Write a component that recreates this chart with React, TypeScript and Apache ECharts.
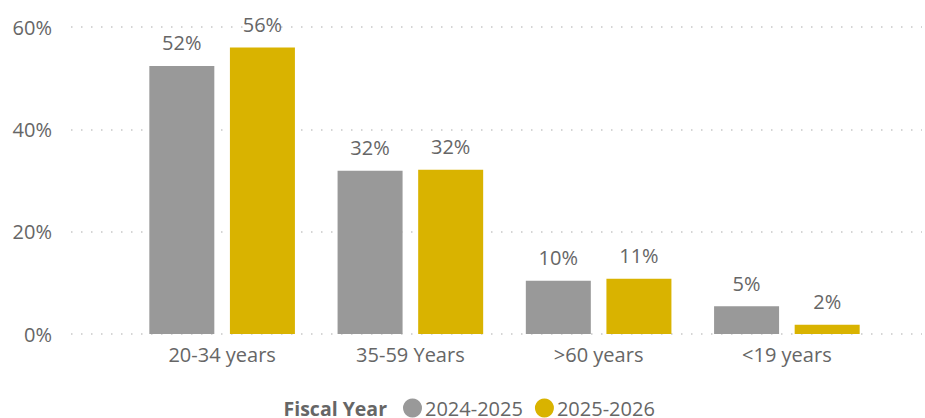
import React, { useEffect, useRef } from "react";
import * as echarts from "echarts";

const categories = ["20-34 years", "35-59 Years", ">60 years", "<19 years"];
const seriesNames = ["2024-2025", "2025-2026"];
const values2024 = [52.4, 31.9, 10.4, 5.4];
const values2025 = [56.0, 32.1, 10.8, 1.8];
const yTicks = [0, 20, 40, 60];

const FONT = "'Segoe UI', 'Open Sans', sans-serif";
const TEXT = "#666666";

export default function App() {
  const ref = useRef<HTMLDivElement>(null);
  useEffect(() => {
    if (!ref.current) return;
    const chart = echarts.init(ref.current, undefined, { renderer: "svg" });
    const label = {
      show: true,
      position: "top" as const,
      distance: 13,
      color: TEXT,
      fontSize: 20,
      fontFamily: FONT,
      formatter: (p: any) => Math.round(p.value) + "%",
    };
    chart.setOption({
      animation: false,
      textStyle: { fontFamily: FONT },
      legend: {
        data: seriesNames,
        left: 398,
        top: 393,
        padding: 5,
        icon: "circle",
        itemWidth: 19,
        itemHeight: 19,
        itemGap: 12,
        textStyle: { color: TEXT, fontSize: 20, fontFamily: FONT, padding: [0, 0, 0, -2] },
      },
      graphic: [
        {
          type: "text",
          right: 925 - 387,
          top: 398,
          style: {
            text: "Fiscal Year",
            fill: TEXT,
            font: `bold 19.5px ${FONT}`,
          },
        },
      ],
      grid: [
        { left: 128, right: 44, top: 27, bottom: 84 },
        { left: 71, right: 3, top: 27, bottom: 84 },
      ],
      xAxis: [
        {
          type: "category",
          gridIndex: 0,
          data: categories,
          axisLine: { show: false },
          axisTick: { show: false },
          axisLabel: { color: TEXT, fontSize: 20, fontFamily: FONT, margin: 10 },
        },
        {
          type: "value",
          gridIndex: 1,
          show: false,
        },
      ],
      yAxis: [
        {
          type: "value",
          gridIndex: 0,
          min: yTicks[0],
          max: yTicks[yTicks.length - 1],
          interval: 20,
          show: false,
          splitLine: { show: false },
        },
        {
          type: "value",
          gridIndex: 1,
          min: yTicks[0],
          max: yTicks[yTicks.length - 1],
          interval: 20,
          axisLine: { show: false },
          axisTick: { show: false },
          axisLabel: {
            color: TEXT,
            fontSize: 20,
            fontFamily: FONT,
            margin: 19,
            formatter: (v: number) => v + "%",
          },
          splitLine: {
            show: true,
            lineStyle: { color: "#c8c8c8", width: 1.5, type: [1.5, 8.5] },
          },
        },
      ],
      series: [
        {
          name: seriesNames[0],
          type: "bar",
          xAxisIndex: 0,
          yAxisIndex: 0,
          data: values2024,
          barWidth: 65,
          barGap: "24%",
          itemStyle: { color: "#999999" },
          label,
        },
        {
          name: seriesNames[1],
          type: "bar",
          xAxisIndex: 0,
          yAxisIndex: 0,
          data: values2025,
          barWidth: 65,
          barGap: "24%",
          itemStyle: { color: "#D9B300" },
          label,
        },
      ],
    });
    return () => chart.dispose();
  }, []);
  return (
    <div
      ref={ref}
      style={{ position: "fixed", left: 0, top: 0, width: 925, height: 418, background: "#fff" }}
    />
  );
}
